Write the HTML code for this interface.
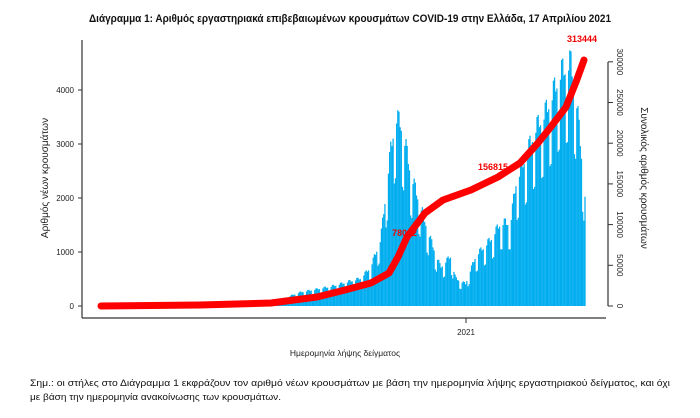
<!DOCTYPE html>
<html><head><meta charset="utf-8"><style>
body{margin:0;background:#fff;width:700px;height:413px;overflow:hidden;font-family:"Liberation Sans",sans-serif}
</style></head><body>
<svg id="s" width="700" height="413" xmlns="http://www.w3.org/2000/svg" font-family="Liberation Sans, sans-serif">
<text x="89" y="22" textLength="522" lengthAdjust="spacingAndGlyphs" font-size="11" font-weight="bold" fill="#111">Διάγραμμα 1: Αριθμός εργαστηριακά επιβεβαιωμένων κρουσμάτων COVID-19 στην Ελλάδα, 17 Απριλίου 2021</text>
<g id="bars"></g>
<line x1="82" y1="40" x2="82" y2="318" stroke="#333" stroke-width="1.2"/>
<line x1="82" y1="318" x2="606" y2="318" stroke="#333" stroke-width="1.2"/>
<line x1="466" y1="318" x2="466" y2="323" stroke="#333"/>
<text x="466" y="335" text-anchor="middle" font-size="8" fill="#222">2021</text>
<g font-size="8" fill="#222" text-anchor="end">
<text x="74" y="93">4000</text><text x="74" y="147">3000</text><text x="74" y="201">2000</text><text x="74" y="255">1000</text><text x="74" y="309">0</text>
</g>
<g stroke="#333"><line x1="78" y1="90" x2="82" y2="90"/><line x1="78" y1="144" x2="82" y2="144"/><line x1="78" y1="198" x2="82" y2="198"/><line x1="78" y1="252" x2="82" y2="252"/><line x1="78" y1="306" x2="82" y2="306"/></g>
<line x1="608" y1="62" x2="608" y2="306" stroke="#333" stroke-width="1.2"/>
<g id="rt" font-size="8" fill="#222"></g>
<text transform="translate(48,178) rotate(-90)" text-anchor="middle" font-size="10" fill="#222">Αριθμός νέων κρουσμάτων</text>
<text transform="translate(641,178) rotate(90)" text-anchor="middle" font-size="10" fill="#222">Συνολικός αριθμός κρουσμάτων</text>
<text x="345" y="356" text-anchor="middle" font-size="8.5" fill="#222">Ημερομηνία λήψης δείγματος</text>
<text x="30" y="386" textLength="640" lengthAdjust="spacingAndGlyphs" font-size="9.5" fill="#111">Σημ.: οι στήλες στο Διάγραμμα 1 εκφράζουν τον αριθμό νέων κρουσμάτων με βάση την ημερομηνία λήψης εργαστηριακού δείγματος, και όχι</text>
<text x="30" y="400" textLength="251" lengthAdjust="spacingAndGlyphs" font-size="9.5" fill="#111">με βάση την ημερομηνία ανακοίνωσης των κρουσμάτων.</text>
<polyline fill="none" stroke="#f00" stroke-width="7" stroke-linejoin="round" stroke-linecap="round" points="101,306 200,305 271,303 317,297 345,290 371,283 389,273 398,257 407,237 425,213 443,200 471,190 498,177 520,163 538,143 550,128 566,107 576,82 584,60"/>
<text x="392" y="236" font-size="9" font-weight="bold" fill="#e00">78012</text>
<text x="478" y="170" font-size="9" font-weight="bold" fill="#e00">156815</text>
<text x="567" y="42" font-size="9" font-weight="bold" fill="#e00">313444</text>
</svg>
<script>
var k=[[100,20],[130,60],[150,30],[250,40],[280,120],[300,250],[330,350],[360,500],[370,700],[380,1200],[385,2000],[390,2800],[395,3400],[400,3300],[405,2900],[410,2400],[420,1800],[430,1200],[440,700],[450,900],[455,500],[465,400],[475,900],[490,1200],[500,1500],[510,1500],[515,2200],[525,2700],[535,3200],[545,3500],[560,4200],[570,4400],[575,3900],[580,2900],[585,1900]];
function f(x){for(var i=0;i<k.length-1;i++){if(x>=k[i][0]&&x<=k[i+1][0]){var t=(x-k[i][0])/(k[i+1][0]-k[i][0]);return k[i][1]+t*(k[i+1][1]-k[i][1]);}}return 0;}
var g=document.getElementById("bars"),h="";
for(var x=100,d=0;x<=585;x+=1.17,d++){var v=f(x);var w=d%7;v*= (w==0||w==6)?0.7:(w==2||w==3?1.08:1.0);var hh=v*0.054;h+='<rect x="'+x.toFixed(2)+'" y="'+(306-hh).toFixed(2)+'" width="1.25" height="'+hh.toFixed(2)+'" fill="#00adef"/>';}
g.innerHTML=h;
var rt=document.getElementById("rt"),r="";
[0,50000,100000,150000,200000,250000,300000].forEach(function(v,i){var y=306-i*40.7;r+='<line x1="608" y1="'+y+'" x2="613" y2="'+y+'" stroke="#333"/><text transform="translate(617,'+y+') rotate(90)" text-anchor="middle">'+v+'</text>';});
rt.innerHTML=r;
</script>
</body></html>
